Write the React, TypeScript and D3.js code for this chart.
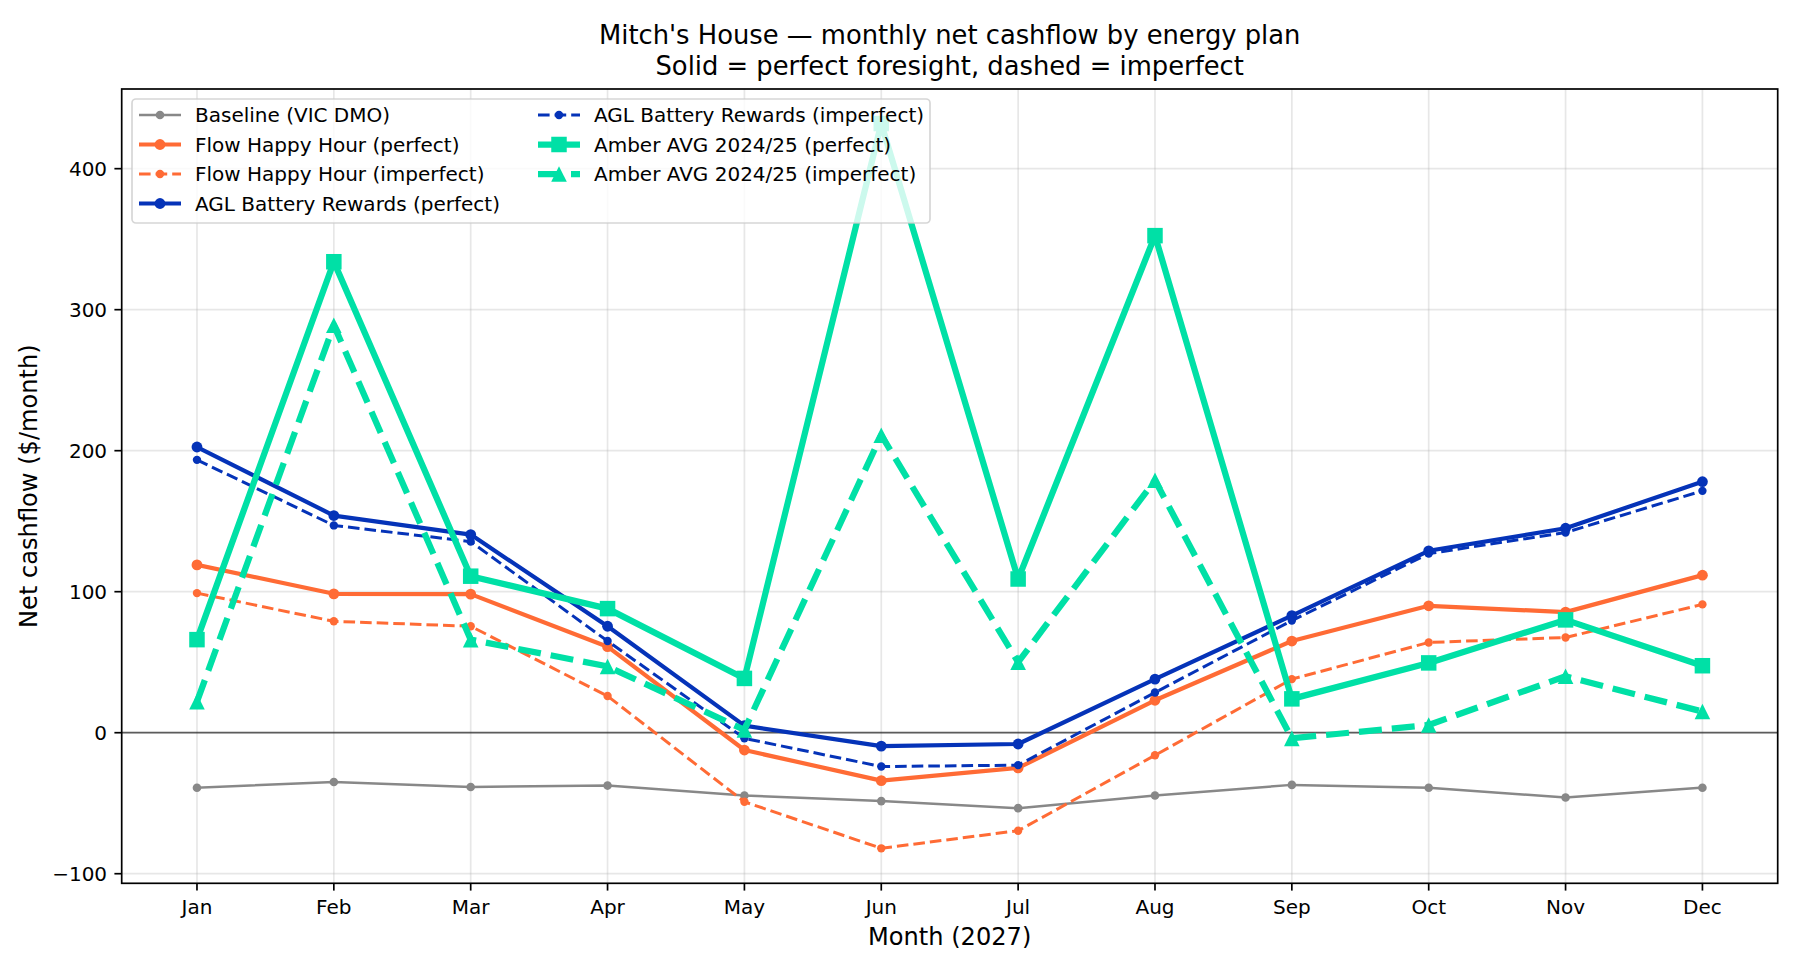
import * as d3 from "d3";

// Monthly net cashflow ($/month).
const MONTHS = ["Jan", "Feb", "Mar", "Apr", "May", "Jun", "Jul", "Aug", "Sep", "Oct", "Nov", "Dec"];
const BASELINE = [-39, -35, -38.5, -37.5, -44.5, -48.5, -53.5, -44.5, -37, -39, -46, -39];
const FLOW_PERFECT = [119, 98.5, 98.3, 61, -12.3, -34, -25, 23, 65, 90, 85.5, 111.7];
const FLOW_IMPERFECT = [99, 79, 75.5, 26, -49, -82, -69.5, -16, 38, 64, 67.5, 91];
const AGL_PERFECT = [202.6, 154, 140.5, 75.5, 5, -9.5, -8, 38, 83, 129, 145, 178];
const AGL_IMPERFECT = [193.5, 147, 135.5, 65, -4, -24, -23, 28.5, 79.5, 127, 142, 171.5];
const AMBER_PERFECT = [66, 334, 111, 88, 38.5, 432, 109, 352.5, 24, 49.5, 80, 47.5];
const AMBER_IMPERFECT = [22, 289, 66, 47, 2, 211, 50, 179, -4, 5.5, 40, 15];
const Y_TICKS = [-100, 0, 100, 200, 300, 400];

const GREY = "#888888";
const ORANGE = "#ff6b35";
const BLUE = "#0533b8";
const TEAL = "#00e0a6";

type Marker = "circle" | "square" | "triangle";
interface Series {
  label: string;
  values: number[];
  color: string;
  width: number;
  dash?: string;
  marker: Marker;
  size: number;
}

const SERIES: Series[] = [
  { label: "Baseline (VIC DMO)", values: BASELINE, color: GREY, width: 2.5, marker: "circle", size: 4.3 },
  { label: "Flow Happy Hour (perfect)", values: FLOW_PERFECT, color: ORANGE, width: 4.2, marker: "circle", size: 5.4 },
  { label: "Flow Happy Hour (imperfect)", values: FLOW_IMPERFECT, color: ORANGE, width: 3, dash: "11.6,5", marker: "circle", size: 4.2 },
  { label: "AGL Battery Rewards (perfect)", values: AGL_PERFECT, color: BLUE, width: 4.2, marker: "circle", size: 5.4 },
  { label: "AGL Battery Rewards (imperfect)", values: AGL_IMPERFECT, color: BLUE, width: 3, dash: "11.6,5", marker: "circle", size: 4.2 },
  { label: "Amber AVG 2024/25 (perfect)", values: AMBER_PERFECT, color: TEAL, width: 6.25, marker: "square", size: 15.5 },
  { label: "Amber AVG 2024/25 (imperfect)", values: AMBER_IMPERFECT, color: TEAL, width: 6.25, dash: "23,10", marker: "triangle", size: 7.8 },
];

const W = 1800;
const H = 975;
const m = { left: 121.7, right: 1777.7, top: 89, bottom: 883.3 };
const FONT = "DejaVu Sans, sans-serif";

function MarkerShape({ kind, x, y, size, color }: { kind: Marker; x: number; y: number; size: number; color: string }) {
  if (kind === "square")
    return <rect x={x - size / 2} y={y - size / 2} width={size} height={size} fill={color} />;
  if (kind === "triangle")
    return <path d={`M${x},${y - size}L${x - size},${y + size}L${x + size},${y + size}Z`} fill={color} />;
  return <circle cx={x} cy={y} r={size} fill={color} />;
}

export default function App() {
  const x = d3.scaleLinear().domain([-0.55, MONTHS.length - 1 + 0.55]).range([m.left, m.right]);
  const y = d3.scaleLinear().domain([-106.8, 456.5]).range([m.bottom, m.top]);
  const line = d3.line<number>().x((_, i) => x(i)).y((v) => y(v));
  const cx = (m.left + m.right) / 2;

  // legend: two columns, 4 + 3 entries
  const legendRows = [115, 144.5, 174, 203.5];
  const legendCols = [139, 538];

  return (
    <svg width={W} height={H} style={{ position: "absolute", left: 0, top: 0, background: "#fff" }} fontFamily={FONT}>
      <rect width={W} height={H} fill="#fff" />
      <defs>
        <clipPath id="plot">
          <rect x={m.left} y={m.top} width={m.right - m.left} height={m.bottom - m.top} />
        </clipPath>
      </defs>

      {/* grid */}
      <g stroke="#b0b0b0" strokeOpacity={0.3} strokeWidth={1.7}>
        {MONTHS.map((_, i) => (
          <line key={i} x1={x(i)} x2={x(i)} y1={m.top} y2={m.bottom} />
        ))}
        {Y_TICKS.map((t) => (
          <line key={t} x1={m.left} x2={m.right} y1={y(t)} y2={y(t)} />
        ))}
      </g>
      <line x1={m.left} x2={m.right} y1={y(0)} y2={y(0)} stroke="#000" strokeOpacity={0.6} strokeWidth={1.7} />

      <g clipPath="url(#plot)">
        {SERIES.map((s) => (
          <g key={s.label}>
            <path
              d={line(s.values) ?? ""}
              fill="none"
              stroke={s.color}
              strokeWidth={s.width}
              strokeDasharray={s.dash}
              strokeLinejoin="round"
              strokeLinecap={s.dash ? "butt" : "square"}
            />
            {s.values.map((v, i) => (
              <MarkerShape key={i} kind={s.marker} x={x(i)} y={y(v)} size={s.size} color={s.color} />
            ))}
          </g>
        ))}
      </g>

      {/* spines */}
      <rect x={m.left} y={m.top} width={m.right - m.left} height={m.bottom - m.top} fill="none" stroke="#000" strokeWidth={1.7} />

      {/* x axis */}
      <g fontSize={20} textAnchor="middle">
        {MONTHS.map((mo, i) => (
          <g key={mo}>
            <line x1={x(i)} x2={x(i)} y1={m.bottom} y2={m.bottom + 7.3} stroke="#000" strokeWidth={1.7} />
            <text x={x(i)} y={m.bottom + 30.5}>{mo}</text>
          </g>
        ))}
      </g>
      {/* y axis */}
      <g fontSize={20} textAnchor="end">
        {Y_TICKS.map((t) => (
          <g key={t}>
            <line x1={m.left - 7.3} x2={m.left} y1={y(t)} y2={y(t)} stroke="#000" strokeWidth={1.7} />
            <text x={m.left - 14.6} y={y(t)} dy="0.35em">{t < 0 ? `\u2212${Math.abs(t)}` : t}</text>
          </g>
        ))}
      </g>

      <text x={cx} y={945} fontSize={24.1} textAnchor="middle">Month (2027)</text>
      <text transform={`translate(36.7,${(m.top + m.bottom) / 2}) rotate(-90)`} fontSize={24.1} textAnchor="middle">
        Net cashflow ($/month)
      </text>

      <text x={cx} y={44.3} fontSize={25.8} textAnchor="middle">Mitch's House — monthly net cashflow by energy plan</text>
      <text x={cx} y={75} fontSize={25.8} textAnchor="middle">Solid = perfect foresight, dashed = imperfect</text>

      {/* legend */}
      <rect x={132} y={99} width={798} height={124} rx={4} fill="#fff" fillOpacity={0.8} stroke="#cccccc" strokeOpacity={0.8} strokeWidth={1.7} />
      {SERIES.map((s, k) => {
        const col = k < 4 ? 0 : 1;
        const row = k < 4 ? k : k - 4;
        const lx = legendCols[col];
        const ly = legendRows[row];
        return (
          <g key={s.label}>
            <line x1={lx} x2={lx + 42} y1={ly} y2={ly} stroke={s.color} strokeWidth={s.width} strokeDasharray={s.dash} />
            <MarkerShape kind={s.marker} x={lx + 21} y={ly} size={s.size} color={s.color} />
            <text x={lx + 56} y={ly} dy="0.35em" fontSize={20}>{s.label}</text>
          </g>
        );
      })}
    </svg>
  );
}
